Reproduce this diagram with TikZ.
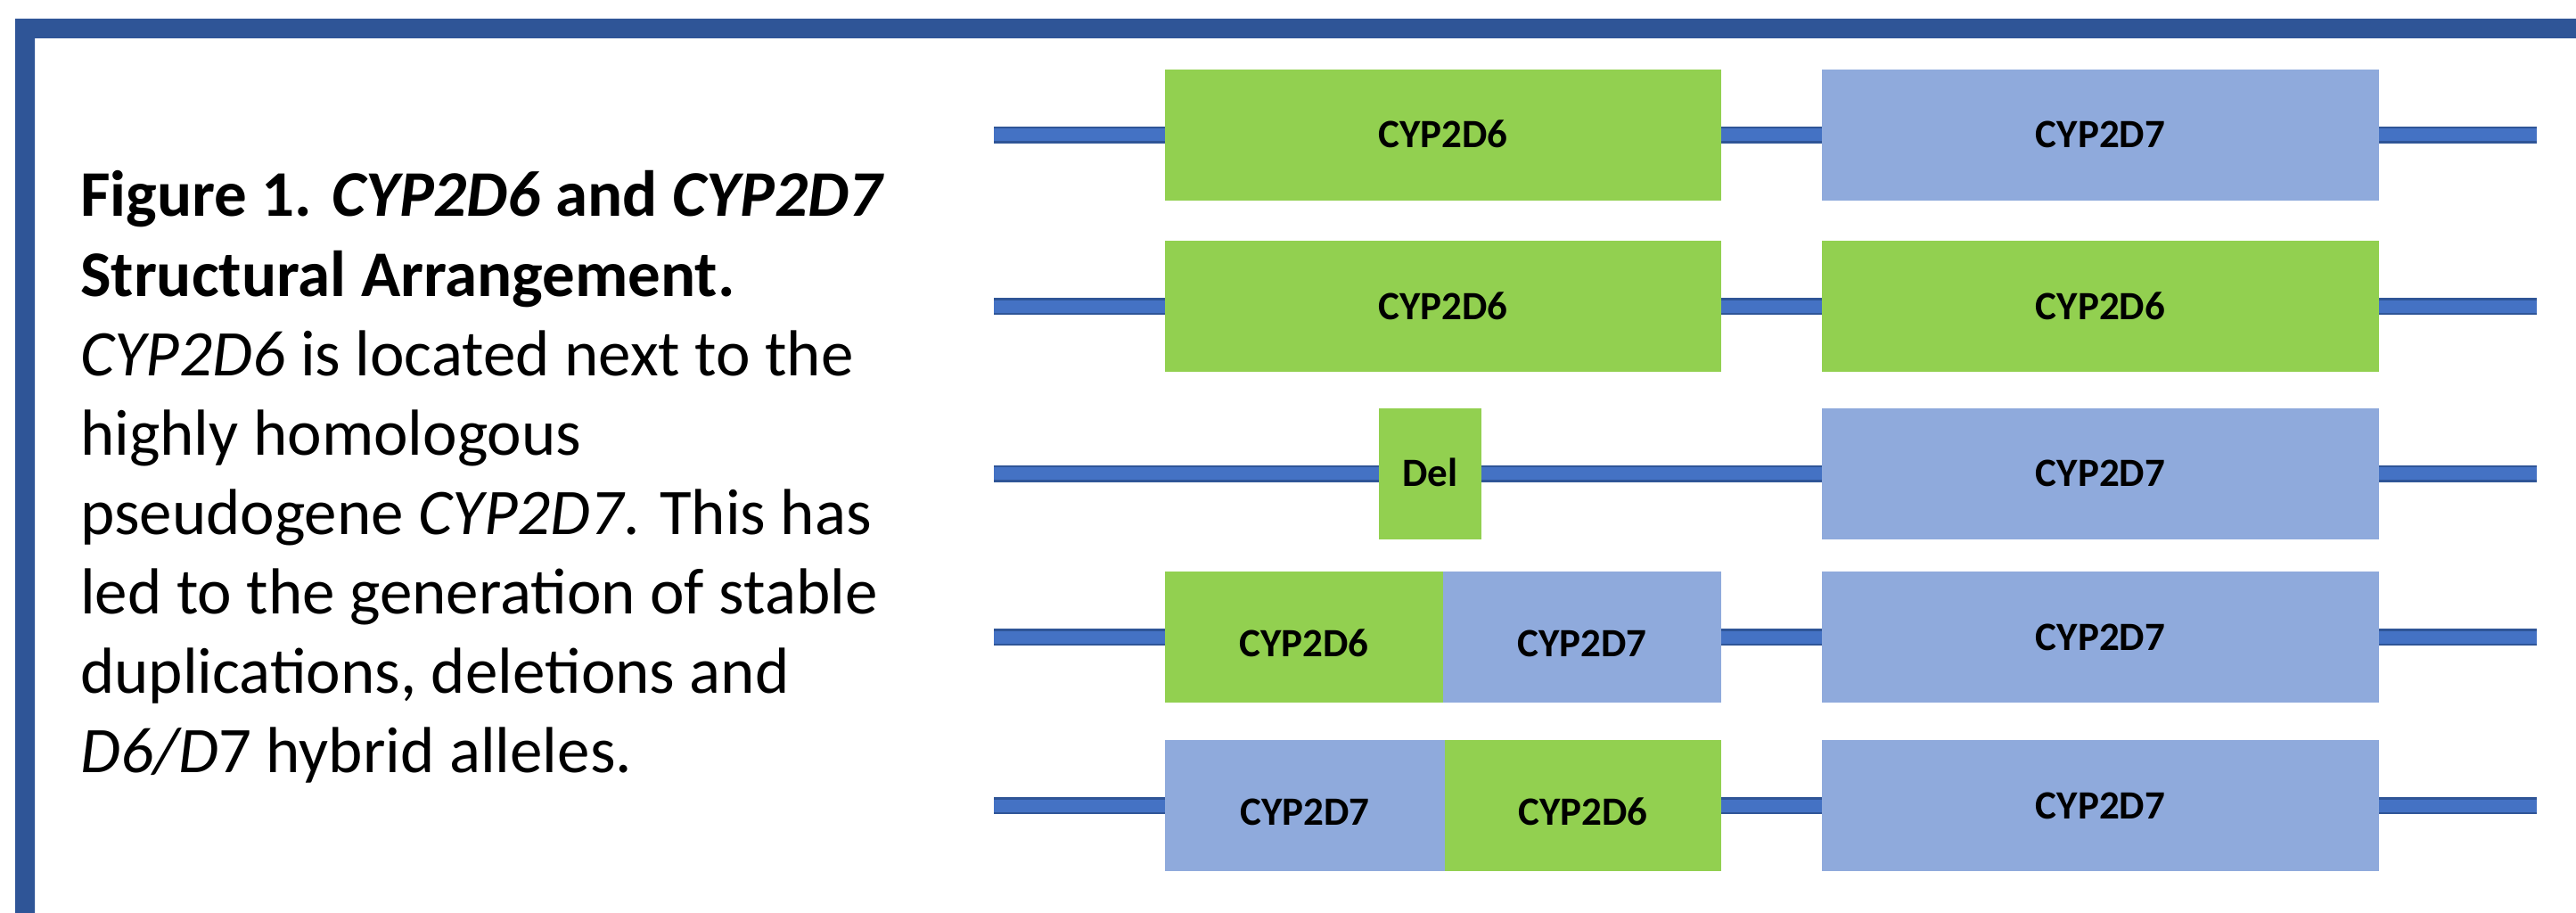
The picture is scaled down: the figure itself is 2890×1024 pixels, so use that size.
\documentclass[tikz,border=0pt]{standalone}
\usepackage{fontspec}
\setmainfont{Carlito}
\definecolor{frameblue}{HTML}{2F5597}
\definecolor{lineblue}{HTML}{4472C4}
\definecolor{genegreen}{HTML}{92D050}
\definecolor{geneblue}{HTML}{8FAADC}
\tikzset{
  gene/.style={rectangle, draw=none, inner sep=0pt, minimum height=147pt,
    font=\fontsize{45}{54}\selectfont\bfseries, text height=29pt, text depth=0pt},
  low/.style={text height=43pt},
  d6/.style={gene, fill=genegreen},
  d7/.style={gene, fill=geneblue},
  backbone/.style={draw=frameblue, line width=2.5pt, double=lineblue, double distance=14pt, line cap=butt},
  captionline/.style={anchor=base west, inner sep=0pt, font=\fontsize{73}{89}\selectfont},
}
\begin{document}
\begin{tikzpicture}[x=1pt,y=-1pt]
\useasboundingbox (0,0) rectangle (2890,1024);
% frame
\fill[frameblue] (17,1030) -- (17,21) -- (2895,21) -- (2895,43) -- (39,43) -- (39,1030) -- cycle;

% backbones
\foreach \r/\c in {1/151.5, 2/343.5, 3/531, 4/714.5, 5/903.5}{
  \coordinate (s\r) at (1115,\c);
  \coordinate (e\r) at (2846,\c);
  \draw[backbone] (s\r) -- (e\r);
}

% row 1
\node[d6, minimum width=624pt] (r1a) at (1619,151.5) {CYP2D6};
\node[d7, minimum width=625pt] (r1b) at (2356.5,151.5) {CYP2D7};
% row 2
\node[d6, minimum width=624pt] (r2a) at (1619,343.5) {CYP2D6};
\node[d6, minimum width=625pt] (r2b) at (2356.5,343.5) {CYP2D6};
% row 3
\node[d6, minimum width=115pt] (r3a) at (1604.5,531) {Del};
\node[d7, minimum width=625pt] (r3b) at (2356.5,531) {CYP2D7};
% row 4
\node[d6, low, minimum width=312pt] (r4a) at (1463,714.5) {CYP2D6};
\node[d7, low, minimum width=312pt] (r4b) at (1775,714.5) {CYP2D7};
\node[d7, minimum width=625pt] (r4c) at (2356.5,714.5) {CYP2D7};
% row 5
\node[d7, low, minimum width=314pt] (r5a) at (1464,903.5) {CYP2D7};
\node[d6, low, minimum width=310pt] (r5b) at (1776,903.5) {CYP2D6};
\node[d7, minimum width=625pt] (r5c) at (2356.5,903.5) {CYP2D7};

% caption
\node[captionline] (c1) at (90,243) {\textbf{Figure 1. \textit{CYP2D6} and \textit{CYP2D7}}};
\node[captionline] (c2) at (90,332) {\textbf{Structural Arrangement.}};
\node[captionline] (c3) at (90,421) {\textit{CYP2D6} is located next to the};
\node[captionline] (c4) at (90,510) {highly homologous};
\node[captionline] (c5) at (90,599) {pseudogene \textit{CYP2D7}. This has};
\node[captionline] (c6) at (90,688) {led to the generation of stable};
\node[captionline] (c7) at (90,777) {duplications, deletions and};
\node[captionline] (c8) at (90,866) {\textit{D6/D}7 hybrid alleles.};
\end{tikzpicture}
\end{document}
